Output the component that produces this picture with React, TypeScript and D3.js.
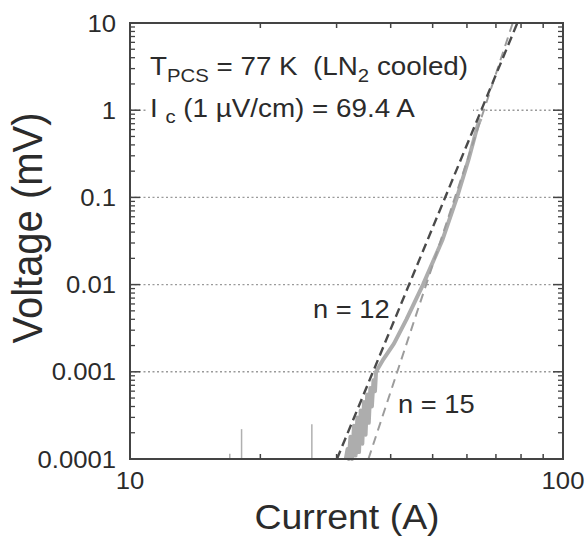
import React from "react";
import * as d3 from "d3";

// ---- data ----
const yTickValues = [10, 1, 0.1, 0.01, 0.001, 0.0001];
const yTickLabels = ["10", "1", "0.1", "0.01", "0.001", "0.0001"];
const xTickValues = [10, 100];
const xTickLabels = ["10", "100"];
const gridValues = [1, 0.1, 0.01, 0.001];

// measured V-I curve (A, mV)
const currentA = [
  31.5, 31.8, 32.0, 32.3, 32.6, 32.9, 33.2, 33.5, 33.8, 34.1, 34.4, 34.7, 35.0, 35.3,
  35.6, 35.9, 36.2, 36.5, 36.8, 37.0, 38.5, 40.7, 43.5, 47.5, 52.6, 56.9, 60.5, 63.6, 64.5,
];
const voltageMV = [
  1.0e-4, 1.3e-4, 1.0e-4, 1.8e-4, 1.0e-4, 2.4e-4, 1.1e-4, 3.0e-4, 1.2e-4, 3.6e-4, 1.5e-4,
  4.5e-4, 1.9e-4, 5.5e-4, 2.6e-4, 6.5e-4, 4.0e-4, 8.0e-4, 6.0e-4, 1.0e-3, 1.4e-3, 2.1e-3,
  4.0e-3, 1.0e-2, 3.2e-2, 0.1, 0.27, 0.68, 0.8,
];

// isolated noise spikes at low current
const spikeCurrentA = [17.0, 18.1, 26.3];
const spikeVoltageMV = [1.15e-4, 2.2e-4, 2.5e-4];

// power-law fits V = Vc (I/Ic)^n
const IcA = 69.4;
const VcMV = 2.3;
const nValues = [12, 15];
const nLabels = ["n = 12", "n = 15"];

const W = 587;
const H = 538;
const FONT = "'Liberation Sans', Arial, Helvetica, sans-serif";
const INK = "#2b2b2b";
const SX = 1.07;

function STxt(props: any) {
  const { x, y, size, anchor = "start", children, fill = INK } = props;
  return (
    <text
      transform={`translate(${x},${y}) scale(${SX},1)`}
      fontSize={size}
      fontFamily={FONT}
      textAnchor={anchor}
      fill={fill}
      style={{ whiteSpace: "pre" }}
    >
      {children}
    </text>
  );
}

export default function App() {
  const x = d3.scaleLog().domain([10, 100]).range([130, 563]);
  const y = d3.scaleLog().domain([1e-4, 10]).range([459, 23]);
  const [x0, x1] = x.range();
  const [y0, y1] = y.range();

  const line = d3
    .line<number>()
    .x((_, i) => x(currentA[i]))
    .y((_, i) => y(voltageMV[i]));
  const dataPath = line(voltageMV) || "";

  const fitPath = (n: number) => {
    const iLo = IcA * Math.pow(1e-4 / VcMV, 1 / n);
    const iHi = IcA * Math.pow(10 / VcMV, 1 / n);
    const pts: [number, number][] = [iLo, iHi].map((I) => [x(I), y(VcMV * Math.pow(I / IcA, n))]);
    return d3.line()(pts) || "";
  };

  // minor ticks
  const yMinor: number[] = [];
  for (let e = -4; e < 1; e++) for (let k = 2; k <= 9; k++) yMinor.push(k * Math.pow(10, e));
  const xMinor: number[] = [];
  for (let k = 2; k <= 9; k++) xMinor.push(k * 10);

  const axisColor = "#444";

  return (
    <svg width={W} height={H} style={{ position: "absolute", left: 0, top: 0, background: "#fff" }}>
      <rect x={0} y={0} width={W} height={H} fill="#fff" />
      {/* gridlines */}
      {gridValues.map((v) => (
        <line
          key={"g" + v}
          x1={x0}
          x2={x1}
          y1={y(v)}
          y2={y(v)}
          stroke="#9a9a9a"
          strokeWidth={1.4}
          strokeDasharray="2,2.5"
        />
      ))}

      {/* annotation background + text */}
      <rect x={146} y={96} width={327} height={27} fill="#fff" />
      <STxt x={150} y={75} size={26}>
        {"T"}
        <tspan fontSize={19} dy={7}>PCS</tspan>
        <tspan dy={-7}>{" = 77 K  (LN"}</tspan>
        <tspan fontSize={19} dy={7}>2</tspan>
        <tspan dy={-7}>{" cooled)"}</tspan>
      </STxt>
      <STxt x={150} y={117} size={26}>
        {"I "}
        <tspan fontSize={19} dy={6}>c</tspan>
        <tspan dy={-6}>{" (1 \u00b5V/cm) = 69.4 A"}</tspan>
      </STxt>

      {/* noise spikes */}
      {spikeCurrentA.map((I, i) => (
        <line
          key={"s" + i}
          x1={x(I)}
          x2={x(I)}
          y1={y(1e-4)}
          y2={y(spikeVoltageMV[i])}
          stroke="#b0b0b0"
          strokeWidth={1.5}
        />
      ))}

      {/* measured data */}
      <path d={dataPath} fill="none" stroke="#adadad" strokeWidth={4} strokeLinejoin="round" />

      {/* fits */}
      <path d={fitPath(nValues[1])} fill="none" stroke="#9c9c9c" strokeWidth={2} strokeDasharray="9,6" />
      <path d={fitPath(nValues[0])} fill="none" stroke="#4a4a4a" strokeWidth={2.4} strokeDasharray="9,5" />

      <STxt x={313} y={318} size={25.5}>{nLabels[0]}</STxt>
      <STxt x={398} y={413} size={25.5}>{nLabels[1]}</STxt>

      {/* ticks */}
      {yMinor.map((v, i) => (
        <g key={"ym" + i} stroke={axisColor} strokeWidth={1.3}>
          <line x1={x0} x2={x0 + 5} y1={y(v)} y2={y(v)} />
          <line x1={x1} x2={x1 - 5} y1={y(v)} y2={y(v)} />
        </g>
      ))}
      {yTickValues.map((v, i) => (
        <g key={"yM" + i} stroke={axisColor} strokeWidth={1.5}>
          <line x1={x0} x2={x0 + 10} y1={y(v)} y2={y(v)} />
          <line x1={x1} x2={x1 - 10} y1={y(v)} y2={y(v)} />
        </g>
      ))}
      {xMinor.map((v, i) => (
        <g key={"xm" + i} stroke={axisColor} strokeWidth={1.5}>
          <line x1={x(v)} x2={x(v)} y1={y0} y2={y0 - 5} />
          <line x1={x(v)} x2={x(v)} y1={y1} y2={y1 + 5} />
        </g>
      ))}

      {/* frame */}
      <rect x={x0} y={y1} width={x1 - x0} height={y0 - y1} fill="none" stroke={axisColor} strokeWidth={2} />

      {/* tick labels */}
      {yTickValues.map((v, i) => (
        <STxt key={"yl" + i} x={116} y={y(v) + 8.5} size={24} anchor="end">
          {yTickLabels[i]}
        </STxt>
      ))}
      {xTickValues.map((v, i) => (
        <STxt key={"xl" + i} x={x(v)} y={489} size={24} anchor="middle">
          {xTickLabels[i]}
        </STxt>
      ))}

      {/* axis titles */}
      <STxt x={347} y={529} size={35} anchor="middle">Current (A)</STxt>
      <text
        transform={`translate(42,228) rotate(-90) scale(1,${SX})`}
        fontSize={40}
        fontFamily={FONT}
        textAnchor="middle"
        fill={INK}
      >
        Voltage (mV)
      </text>
    </svg>
  );
}
